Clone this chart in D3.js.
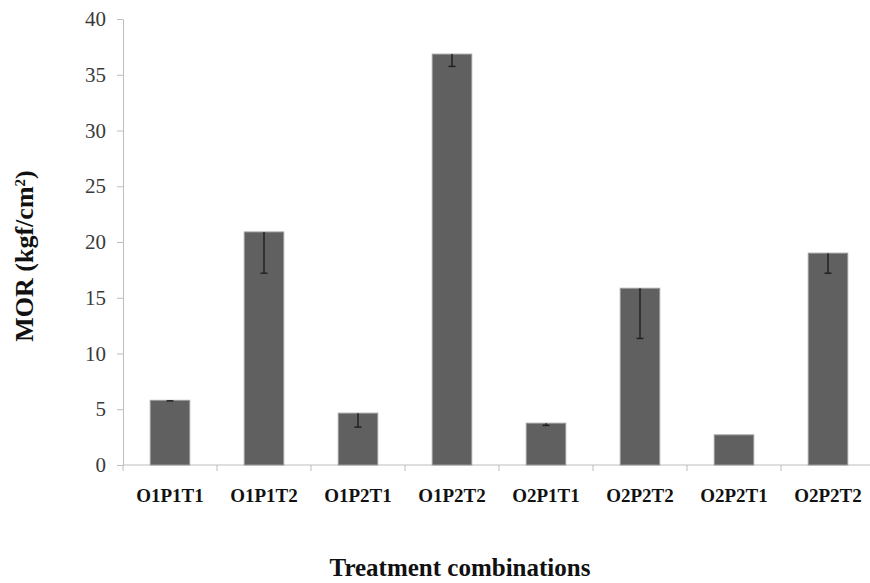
<!DOCTYPE html>
<html>
<head>
<meta charset="utf-8">
<script src="https://cdn.jsdelivr.net/npm/d3@7"></script>
<style>
  body { margin: 0; background: #fff; }
  .axis path, .axis line { stroke: #bdbdbd; }
  .x-axis text { font-family: "Liberation Serif", serif; font-size: 19px; font-weight: bold; fill: #111; }
  .title { font-family: "Liberation Serif", serif; font-weight: bold; fill: #111; }
</style>
</head>
<body>
<div id="chart"></div>
<script>
const width = 870;
const height = 583;

const margin = { top: 19, right: -5, bottom: 118, left: 123 };

// Data
const treatments = ["O1P1T1", "O1P1T2", "O1P2T1", "O1P2T2", "O2P1T1", "O2P2T2", "O2P2T1", "O2P2T2 "];
const morValues = [5.8, 20.9, 4.65, 36.85, 3.75, 15.85, 2.7, 19.0];
const morErrors = [0.05, 3.7, 1.25, 1.1, 0.2, 4.5, 0, 1.8];
const yTicks = [0, 5, 10, 15, 20, 25, 30, 35, 40];

const data = treatments.map(function(t, i) {
  return { name: t, value: morValues[i], err: morErrors[i] };
});

const svg = d3.select("#chart")
  .append("svg")
  .attr("width", width)
  .attr("height", height);

const xScale = d3.scaleBand()
  .domain(treatments)
  .range([margin.left, width - margin.right])
  .padding(0);

const yScale = d3.scaleLinear()
  .domain([0, 40])
  .range([height - margin.bottom, margin.top]);

const barWidth = xScale.bandwidth() * 0.42;

// y axis
const yAxis = svg.append("g")
  .attr("class", "axis y-axis")
  .attr("transform", "translate(" + margin.left + ",0)")
  .call(d3.axisLeft(yScale).tickValues(yTicks).tickSize(6).tickPadding(11).tickSizeOuter(0));

yAxis.selectAll("text")
  .style("font-family", "'Liberation Serif', 'Times New Roman', serif")
  .style("font-size", "21px")
  .attr("fill", "#3a3a3a");

// x axis with ticks between categories
const xAxis = svg.append("g")
  .attr("class", "axis x-axis")
  .attr("transform", "translate(0," + yScale(0) + ")");

xAxis.append("line")
  .attr("x1", margin.left)
  .attr("x2", width - margin.right)
  .attr("stroke", "#bdbdbd");

xAxis.selectAll(".xtick")
  .data(treatments)
  .enter()
  .append("line")
  .attr("class", "xtick")
  .attr("x1", function(d) { return xScale(d); })
  .attr("x2", function(d) { return xScale(d); })
  .attr("y1", 0)
  .attr("y2", 6)
  .attr("stroke", "#bdbdbd");

xAxis.selectAll(".xlabel")
  .data(treatments)
  .enter()
  .append("text")
  .attr("class", "xlabel")
  .attr("x", function(d) { return xScale(d) + xScale.bandwidth() / 2; })
  .attr("y", 37)
  .attr("text-anchor", "middle")
  .text(function(d) { return d.trim(); });

// bars
svg.selectAll(".bar")
  .data(data)
  .enter()
  .append("rect")
  .attr("class", "bar")
  .attr("x", function(d) { return xScale(d.name) + xScale.bandwidth() / 2 - barWidth / 2; })
  .attr("y", function(d) { return yScale(d.value); })
  .attr("width", barWidth)
  .attr("height", function(d) { return yScale(0) - yScale(d.value); })
  .attr("fill", "#606060")
  .attr("stroke", "#9a9a9a")
  .attr("stroke-width", 1);

// error bars (downward only)
const errs = data.filter(function(d) { return d.err > 0; });

svg.selectAll(".err")
  .data(errs)
  .enter()
  .append("line")
  .attr("class", "err")
  .attr("x1", function(d) { return xScale(d.name) + xScale.bandwidth() / 2; })
  .attr("x2", function(d) { return xScale(d.name) + xScale.bandwidth() / 2; })
  .attr("y1", function(d) { return yScale(d.value); })
  .attr("y2", function(d) { return yScale(d.value - d.err); })
  .attr("stroke", "#222")
  .attr("stroke-width", 1.5);

svg.selectAll(".cap")
  .data(errs)
  .enter()
  .append("line")
  .attr("class", "cap")
  .attr("x1", function(d) { return xScale(d.name) + xScale.bandwidth() / 2 - 3.5; })
  .attr("x2", function(d) { return xScale(d.name) + xScale.bandwidth() / 2 + 3.5; })
  .attr("y1", function(d) { return yScale(d.value - d.err); })
  .attr("y2", function(d) { return yScale(d.value - d.err); })
  .attr("stroke", "#222")
  .attr("stroke-width", 1.5);

// axis titles
const yTitle = svg.append("text")
  .attr("class", "title")
  .attr("transform", "translate(33,256) rotate(-90)")
  .attr("text-anchor", "middle")
  .attr("font-size", "26px");
yTitle.append("tspan").text("MOR (kgf/cm");
yTitle.append("tspan").attr("baseline-shift", "super").attr("font-size", "15px").text("2");
yTitle.append("tspan").text(")");

svg.append("text")
  .attr("class", "title")
  .attr("x", 460)
  .attr("y", 576)
  .attr("text-anchor", "middle")
  .attr("font-size", "25px")
  .text("Treatment combinations");
</script>
</body>
</html>
